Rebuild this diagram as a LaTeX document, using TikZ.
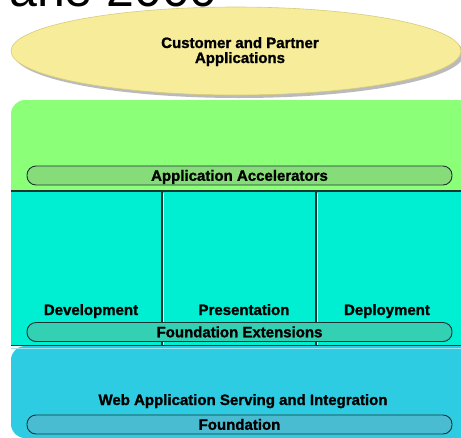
\documentclass[tikz,border=0pt]{standalone}
\usepackage{fontspec}
\setmainfont{Liberation Sans}
\newfontfamily\heavy{Liberation Sans}[BoldFeatures={FakeBold=1.3}]
\usetikzlibrary{shapes.geometric,shadows}
\definecolor{ellfill}{HTML}{F6EC9A}
\definecolor{ellline}{HTML}{D8CC78}
\definecolor{greenbg}{HTML}{8CFF78}
\definecolor{greenbar}{HTML}{86DC78}
\definecolor{tealbg}{HTML}{00EED2}
\definecolor{tealbar}{HTML}{33D0B4}
\definecolor{bluebg}{HTML}{2ECCE2}
\definecolor{bluebar}{HTML}{4ABCD2}
\definecolor{darkline}{HTML}{1C3434}
\tikzset{
  lbl/.style={font=\heavy\fontsize{15}{15}\selectfont\bfseries, text=black, inner sep=0pt, align=center, anchor=base},
  barbox/.style={draw=darkline, line width=0.9pt, rounded corners=9pt, minimum width=425pt, minimum height=19pt, inner sep=0pt, text height=10.6pt, text depth=0pt, font=\heavy\fontsize{15}{15}\selectfont\bfseries},
  sepline/.style={draw=darkline, line width=1.4pt},
  divline/.style={draw=darkline, line width=1.1pt}
}
\begin{document}
\begin{tikzpicture}[x=1pt,y=-1pt]
\useasboundingbox (0,0) rectangle (461,437);
\fill[white] (0,0) rectangle (461,437);
% cut-off title
\node[anchor=base west, inner sep=0pt, font=\fontsize{50}{50}\selectfont] (title) at (9,6) {ane 2000};
% ellipse
\node[ellipse, fill=ellfill, draw=ellline, line width=0.6pt, minimum width=450pt, minimum height=88pt,
  drop shadow={shadow xshift=3pt, shadow yshift=-3pt, opacity=0.45, fill=black!60}] (cust) at (236,51) {};
\node[lbl] (custtxt) at (240,63) {Customer and Partner\\Applications};
% layer backgrounds
\fill[greenbg, rounded corners=14pt] (11,191) -- (11,100) -- (475,100) [sharp corners] -- (475,191) -- cycle;
\fill[tealbg] (11,191) rectangle (475,346);
\fill[bluebg, rounded corners=14pt] (475,346) -- (11,346) -- (11,438) -- (475,438) [sharp corners] -- cycle;
% separators
\draw[divline] (162,192) -- (162,346);
\draw[divline] (316,192) -- (316,346);
\draw[white!70!tealbg, line width=0.8pt] (163.3,193) -- (163.3,345);
\draw[white!70!tealbg, line width=0.8pt] (317.3,193) -- (317.3,345);
\draw[sepline] (11,191) -- (475,191);
\draw[sepline] (11,345.5) -- (475,345.5);
\draw[white!50!bluebg, line width=1pt] (11,348) -- (475,348);
% bars
\node[barbox, fill=greenbar] (accel) at (239.5,175.5) {Application Accelerators};
\node[barbox, fill=tealbar] (ext) at (239.5,332) {Foundation Extensions};
\node[barbox, fill=bluebar] (found) at (239.5,424.5) {Foundation};
% labels
\node[lbl] (dev) at (91,315) {Development};
\node[lbl] (pres) at (244,315) {Presentation};
\node[lbl] (dep) at (387,315) {Deployment};
\node[lbl] (web) at (243,405) {Web Application Serving and Integration};
\end{tikzpicture}
\end{document}
